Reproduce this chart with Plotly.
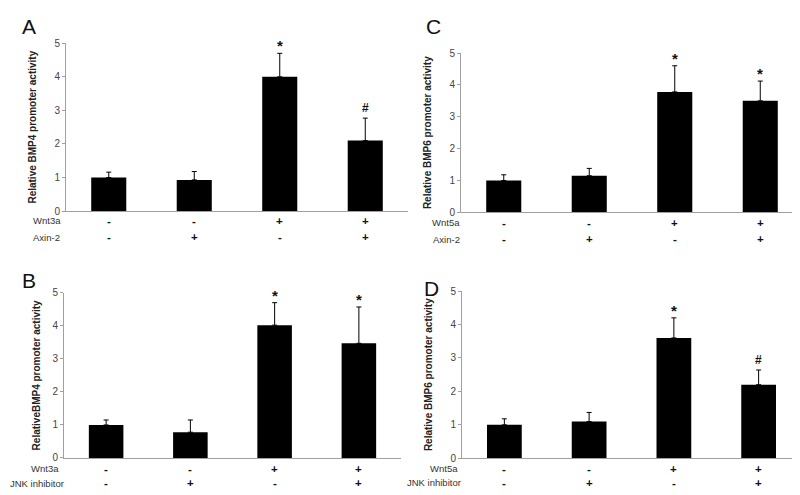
import plotly.graph_objects as go

W, H = 800, 495

# ---- data ----
positions = [0, 1, 2, 3]
A_vals = [1.0, 0.93, 4.0, 2.1]
A_err = [0.16, 0.25, 0.7, 0.67]
B_vals = [1.0, 0.78, 4.02, 3.47]
B_err = [0.15, 0.37, 0.68, 1.1]
C_vals = [1.0, 1.15, 3.78, 3.5]
C_err = [0.18, 0.23, 0.82, 0.62]
D_vals = [1.0, 1.1, 3.6, 2.2]
D_err = [0.18, 0.27, 0.6, 0.44]

A_marks = ["", "", "*", "#"]
B_marks = ["", "", "*", "*"]
C_marks = ["", "", "*", "*"]
D_marks = ["", "", "*", "#"]

row1_signs = ["-", "-", "+", "+"]
row2_signs = ["-", "+", "-", "+"]

A_title = "Relative BMP4 promoter activity"
B_title = "RelativeBMP4 promoter activity"
C_title = "Relative BMP6 promoter activity"
D_title = "Relative BMP6 promoter activity"

y_ticks = [0, 1, 2, 3, 4, 5]

# ---- layout geometry (pixels) ----
def px_x(p):
    return p / W

def px_y(p):
    return 1 - p / H

panels = [
    dict(letter="A", vals=A_vals, err=A_err, marks=A_marks, title=A_title,
         x0=58, x1=400, ytop=30, ybot=202, r1="Wnt3a", r2="Axin-2",
         r1y=212, r2y=229, lab_x1=24, lab_x2=24, anchor="left", lx=12, ly=13,
         standoff=15),
    dict(letter="B", vals=B_vals, err=B_err, marks=B_marks, title=B_title,
         x0=56, x1=393, ytop=285.7, ybot=455, r1="Wnt3a", r2="JNK inhibitor",
         r1y=466, r2y=481, lab_x1=52, lab_x2=57, anchor="right", lx=12, ly=273,
         standoff=9),
    dict(letter="C", vals=C_vals, err=C_err, marks=C_marks, title=C_title,
         x0=453, x1=795, ytop=40, ybot=203.3, r1="Wnt5a", r2="Axin-2",
         r1y=214, r2y=231, lab_x1=423, lab_x2=424, anchor="left", lx=416, ly=13,
         standoff=15),
    dict(letter="D", vals=D_vals, err=D_err, marks=D_marks, title=D_title,
         x0=454, x1=793, ytop=284, ybot=455.3, r1="Wnt5a", r2="JNK inhibitor",
         r1y=466, r2y=480.5, lab_x1=451, lab_x2=454, anchor="right", lx=414, ly=281,
         standoff=15),
]

fig = go.Figure()
annotations = []
layout_axes = {}
FONT = "Liberation Sans, Arial, sans-serif"

for i, p in enumerate(panels):
    n = i + 1
    xa = "x" if n == 1 else f"x{n}"
    ya = "y" if n == 1 else f"y{n}"
    fig.add_trace(go.Bar(
        x=positions, y=p["vals"], xaxis=xa, yaxis=ya,
        marker=dict(color="black", line=dict(width=0)),
        width=0.41,
        error_y=dict(type="data", symmetric=False, array=p["err"],
                     arrayminus=[0] * len(p["err"]), color="black",
                     thickness=1, width=2.5),
        showlegend=False,
    ))
    xkey = "xaxis" if n == 1 else f"xaxis{n}"
    ykey = "yaxis" if n == 1 else f"yaxis{n}"
    layout_axes[xkey] = dict(
        domain=[px_x(p["x0"]), px_x(p["x1"])], range=[-0.5, 3.5],
        anchor=ya, showticklabels=False, ticks="", showgrid=False,
        zeroline=False, showline=True, linecolor="#a0a0a0", linewidth=1,
        fixedrange=True,
    )
    layout_axes[ykey] = dict(
        domain=[px_y(p["ybot"]), px_y(p["ytop"])], range=[0, 5],
        anchor=xa, tickvals=y_ticks, ticks="outside", ticklen=3,
        tickcolor="#a0a0a0", showgrid=False, zeroline=False, showline=True,
        linecolor="#a0a0a0", linewidth=1,
        tickfont=dict(family=FONT, size=10, color="#444"),
        title=dict(text="<b>" + p["title"] + "</b>", standoff=p["standoff"],
                   font=dict(family=FONT, size=10, color="#222")),
        fixedrange=True,
    )
    # significance marks
    for xi, v, e, m in zip(positions, p["vals"], p["err"], p["marks"]):
        if m:
            annotations.append(dict(
                x=xi, y=v + e, xref=xa, yref=ya, text="<b>" + m + "</b>",
                showarrow=False, yanchor="bottom", yshift=-3 if m == "*" else 1,
                font=dict(family=FONT, size=15 if m == "*" else 12, color="#111")))
    # row signs
    for xi, s1, s2 in zip(positions, row1_signs, row2_signs):
        for s, yy in ((s1, p["r1y"]), (s2, p["r2y"])):
            annotations.append(dict(
                x=xi, y=px_y(yy), xref=xa, yref="paper", text="<b>" + s + "</b>",
                showarrow=False, yanchor="middle", borderpad=0,
                font=dict(family=FONT, size=11.5, color="#111")))
    # row labels
    annotations.append(dict(
        x=px_x(p["lab_x1"]), y=px_y(p["r1y"]), xref="paper", yref="paper",
        text=p["r1"], showarrow=False, xanchor=p["anchor"], yanchor="middle",
        borderpad=0, font=dict(family=FONT, size=9.5, color="#333")))
    annotations.append(dict(
        x=px_x(p["lab_x2"]), y=px_y(p["r2y"]), xref="paper", yref="paper",
        text=p["r2"], showarrow=False, xanchor=p["anchor"], yanchor="middle",
        borderpad=0, font=dict(family=FONT, size=9.5, color="#333")))
    # panel letter
    annotations.append(dict(
        x=px_x(p["lx"]), y=px_y(p["ly"]), xref="paper", yref="paper",
        text=p["letter"], showarrow=False, xanchor="left", yanchor="middle",
        font=dict(family=FONT, size=21, color="#111")))

fig.update_layout(
    width=W, height=H, margin=dict(l=0, r=0, t=0, b=0),
    paper_bgcolor="white", plot_bgcolor="white",
    annotations=annotations, bargap=0.5, **layout_axes,
)

fig.write_html("out.html")
